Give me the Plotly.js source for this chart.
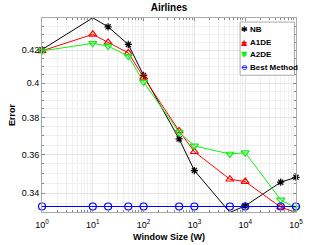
<!DOCTYPE html>
<html><head><meta charset="utf-8">
<script src="https://cdn.plot.ly/plotly-3.0.1.min.js"></script>
<style>html,body{margin:0;padding:0;background:#fff;}#chart{width:327px;height:245px;}</style>
</head><body><div id="chart"></div>
<script>
const windowSizes = [1, 10, 20, 50, 100, 500, 1000, 5000, 10000, 50000, 100000];
const nbError   = [0.4203, 0.4405, 0.4347, 0.4235, 0.4046, 0.3683, 0.3515, 0.3304, 0.3336, 0.3455, 0.3480];
const a1deError = [0.4195, 0.4299, 0.4248, 0.4183, 0.4034, 0.3727, 0.3614, 0.3470, 0.3458, 0.3330, 0.3304];
const a2deError = [0.4195, 0.4242, 0.4225, 0.4163, 0.4006, 0.3720, 0.3645, 0.3602, 0.3609, 0.3366, 0.3325];
const bestError = [0.3333, 0.3333, 0.3333, 0.3333, 0.3333, 0.3333, 0.3333, 0.3333, 0.3333, 0.3333, 0.3333];
const seriesNames = ['NB', 'A1DE', 'A2DE', 'Best Method'];
const seriesColors = ['#000000', '#ff0000', '#11ee11', '#0000ff'];
const seriesSymbols = ['asterisk-open', 'triangle-up-open', 'triangle-down-open', 'circle-open'];
const legendGlyphs = ['✱', '▲', '▼', '⊖'];
const xTickVals = [1, 10, 100, 1000, 10000, 100000];
const xTickText = ['10<sup>0</sup>','10<sup>1</sup>','10<sup>2</sup>','10<sup>3</sup>','10<sup>4</sup>','10<sup>5</sup>'];
const yTickVals = [0.34, 0.36, 0.38, 0.40, 0.42];
const yTickText = ['0.34','0.36','0.38','0.4','0.42'];

const font = 'Liberation Sans Narrow, Arial Narrow, Liberation Sans, Arial, sans-serif';
const seriesValues = [nbError, a1deError, a2deError, bestError];
const data = seriesValues.map((y, i) => ({
  x: windowSizes, y: y, name: seriesNames[i], type: 'scatter', mode: 'lines+markers',
  cliponaxis: false,
  line: {color: seriesColors[i], width: 1},
  marker: {symbol: seriesSymbols[i], size: i === 0 ? 6 : 7, color: seriesColors[i], line: {color: seriesColors[i], width: 1.2}}
}));

// compact legend (MATLAB style): box + entries
const legY = [0.942, 0.875, 0.810, 0.747];
const legX0 = 0.780;
const annotations = [];
seriesNames.forEach((n, i) => {
  annotations.push({xref: 'paper', yref: 'paper', x: legX0 + 0.016, y: legY[i], xanchor: 'center', yanchor: 'middle',
    text: legendGlyphs[i], showarrow: false, font: {size: 8, color: seriesColors[i], family: 'DejaVu Sans'}});
  annotations.push({xref: 'paper', yref: 'paper', x: legX0 + 0.030, y: legY[i], xanchor: 'left', yanchor: 'middle',
    text: '<b>' + n + '</b>', showarrow: false, font: {size: 8, color: '#000', family: font}});
});
const shapes = [
  {type: 'rect', xref: 'paper', yref: 'paper', x0: legX0, x1: 0.994, y0: 0.705, y1: 0.979,
   line: {color: '#aaaaaa', width: 1}, fillcolor: '#ffffff', layer: 'above'}
];
seriesNames.forEach((n, i) => {
  shapes.push({type: 'line', xref: 'paper', yref: 'paper', x0: legX0 + 0.006, x1: legX0 + 0.027, y0: legY[i] - 0.001, y1: legY[i] - 0.001,
    line: {color: seriesColors[i], width: 1}, layer: 'above'});
});

const layout = {
  width: 327, height: 245,
  margin: {l: 42, r: 31, t: 18, b: 33},
  paper_bgcolor: '#fff', plot_bgcolor: '#fff',
  font: {family: font, size: 9, color: '#000'},
  title: {text: '<b>Airlines</b>', x: 0.5, xref: 'paper', y: 0.985, yref: 'container', yanchor: 'top', font: {size: 10, family: font}},
  showlegend: false,
  annotations: annotations,
  shapes: shapes,
  xaxis: {type: 'log', range: [0, 5], tickvals: xTickVals, ticktext: xTickText,
    showgrid: true, gridcolor: '#e4e4e4', gridwidth: 1,
    minor: {dtick: 'D1', showgrid: true, gridcolor: '#f0f0f0', ticks: 'inside', ticklen: 2, tickcolor: '#888'},
    ticks: 'inside', ticklen: 3, tickcolor: '#888', ticklabelstandoff: 4,
    showline: true, linecolor: '#aaa', mirror: 'ticks', zeroline: false,
    title: {text: '<b>Window Size (W)</b>', font: {size: 9, family: font}, standoff: 4},
    tickfont: {size: 9, family: font}},
  yaxis: {type: 'log', range: [Math.log10(0.3306), Math.log10(0.4404)], tickvals: yTickVals, ticktext: yTickText,
    showgrid: true, gridcolor: '#e4e4e4', gridwidth: 1,
    minor: {dtick: 'L0.005', showgrid: true, gridcolor: '#f0f0f0', ticks: 'inside', ticklen: 2, tickcolor: '#888'},
    ticks: 'inside', ticklen: 3, tickcolor: '#888',
    showline: true, linecolor: '#aaa', mirror: 'ticks', zeroline: false,
    title: {text: '<b>Error</b>', font: {size: 9, family: font}, standoff: 4},
    tickfont: {size: 9, family: font}}
};
Plotly.newPlot('chart', data, layout, {displayModeBar: false, staticPlot: true});
</script></body></html>
